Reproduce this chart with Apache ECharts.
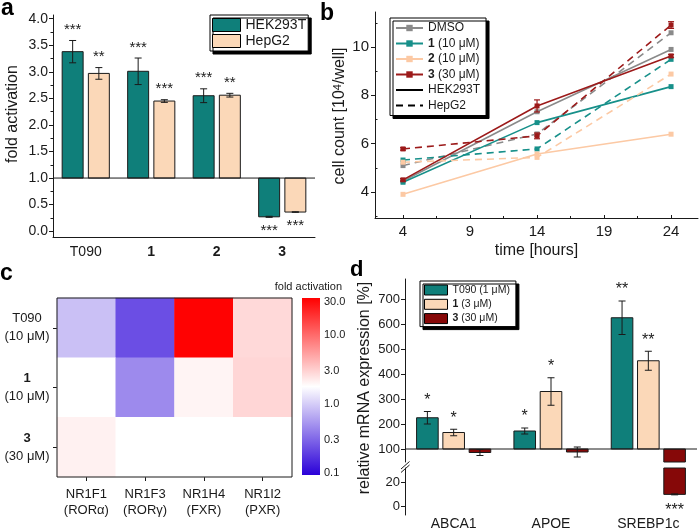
<!DOCTYPE html>
<html><head><meta charset="utf-8">
<script src="https://cdn.jsdelivr.net/npm/echarts@6/dist/echarts.min.js"></script>
<style>html,body{margin:0;padding:0;background:#fff}#c{width:700px;height:531px}</style>
</head><body><div id="c"></div><script>
// ---------------- DATA ----------------
// Panel a: fold activation (baseline 1.0)
const aCategories = ['T090', '1', '2', '3'];
const aHEK = [3.38, 3.01, 2.55, 0.27];
const aHEKErr = [0.21, 0.25, 0.13, 0.01];
const aHEKStars = ['***', '***', '***', '***'];
const aHepG2 = [2.97, 2.45, 2.56, 0.36];
const aHepG2Err = [0.11, 0.025, 0.035, 0.005];
const aHepG2Stars = ['**', '***', '**', '***'];
const aBaseline = 1.0;
const aYTicks = [0, 0.5, 1, 1.5, 2, 2.5, 3, 3.5, 4];
const aYMinor = [0.25, 0.75, 1.25, 1.75, 2.25, 2.75, 3.25, 3.75];

// Panel b: cell count over time
const bTimes = [4, 14, 24];
const bXTicks = [4, 9, 14, 19, 24];
const bXMinor = [6.5, 11.5, 16.5, 21.5];
const bYTicks = [4, 6, 8, 10];
const bYMinor = [3, 5, 7, 9, 11];
const bDMSO_HEK = [4.45, 7.32, 9.90];
const bDMSO_HepG2 = [5.09, 6.40, 10.59];
const b1_HEK = [4.40, 6.87, 8.36];
const b1_HepG2 = [5.32, 5.78, 9.49];
const b2_HEK = [3.90, 5.57, 6.39];
const b2_HepG2 = [5.23, 5.43, 8.88];
const b3_HEK = [4.50, 7.56, 9.63];
const b3_HEKErr = [0.05, 0.25, 0.06];
const b3_HepG2 = [5.78, 6.32, 10.91];
const b3_HepG2Err = [0.05, 0.12, 0.14];

// Panel c: heatmap of fold activation
const cRowKeys = ['T090', '1', '3'];
const cRowConc = ['(10 μM)', '(10 μM)', '(30 μM)'];
const cCols = ['NR1F1\n(RORα)', 'NR1F3\n(RORγ)', 'NR1H4\n(FXR)', 'NR1I2\n(PXR)'];
const cT090 = [0.86, 0.23, 34, 2.8];
const c1 = [1.8, 0.46, 2.03, 2.9];
const c3 = [2.1, 1.8, 1.8, 1.8];
const cBarTicks = [0.1, 0.3, 1, 3, 10, 30];
const cBarMin = 0.0925, cBarMax = 34.8;

// Panel d: relative mRNA expression (baseline 100 %)
const dCategories = ['ABCA1', 'APOE', 'SREBP1c'];
const dT090 = [225, 172, 625];
const dT090Err = [25, 12, 67];
const dT090Stars = ['*', '*', '**'];
const d1 = [166, 330, 453];
const d1Err = [13, 55, 38];
const d1Stars = ['*', '*', '**'];
const d3 = [86, 88, 10];
const d3Err = [12, 20, 0.4];
const d3Stars = ['', '', '***'];
const dBaseline = 100;
const dUpperTicks = [100, 200, 300, 400, 500, 600, 700];
const dLowerTicks = [0, 20];
const dUpperMin = 48, dUpperMax = 780, dLowerMin = -7.2, dLowerMax = 32;

// ---------------- STYLE ----------------
const FONT = '"Liberation Sans", Arial, Helvetica, sans-serif';
const INK = '#1a1a1a';
const TEAL = '#0f7f7a', PEACH = '#fbd8b8', DRED = '#860808', GRAY = '#8a8a8a';
const TEAL_L = '#17908a', PEACH_L = '#fcc9a4', DRED_L = '#9c1a1a';

const chart = echarts.init(document.getElementById('c'));

function makeBar(o) {
  return function (params, api) {
    const i = params.dataIndex;
    const cat = api.value(0), v = api.value(1), e = api.value(2);
    const cs = params.coordSys;
    const band = api.size([1, 0])[0];
    const c0 = api.coord([cat, o.base]);
    const c1p = api.coord([cat, v]);
    const xc = c0[0] + band * o.off;
    const w = band * o.wid;
    const top = cs.y, bot = cs.y + cs.height;
    const clamp = y => Math.max(top, Math.min(bot, y));
    const ya = clamp(Math.min(c0[1], c1p[1])), yb = clamp(Math.max(c0[1], c1p[1]));
    const ch = [];
    if (yb - ya > 0.2) ch.push({type: 'rect', shape: {x: xc - w / 2, y: ya, width: w, height: yb - ya},
      style: {fill: o.color, stroke: INK, lineWidth: 1}});
    const eHi = api.coord([cat, v + e])[1], eLo = api.coord([cat, v - e])[1];
    const inR = y => y >= top - 0.5 && y <= bot + 0.5;
    if (e > 0 && inR(eHi) && inR(eLo)) {
      const cw = o.cap;
      const st = {stroke: INK, lineWidth: 1};
      ch.push({type: 'line', shape: {x1: xc, y1: eHi, x2: xc, y2: eLo}, style: st});
      ch.push({type: 'line', shape: {x1: xc - cw, y1: eHi, x2: xc + cw, y2: eHi}, style: st});
      ch.push({type: 'line', shape: {x1: xc - cw, y1: eLo, x2: xc + cw, y2: eLo}, style: st});
    }
    const s = o.stars[i];
    if (s && inR(c1p[1])) {
      const up = v >= o.base;
      const y = up ? Math.min(eHi, c1p[1]) - o.gapUp : Math.max(eLo, c1p[1]) + o.gapDown;
      ch.push({type: 'text', style: {text: s, x: xc, y: y, align: 'center',
        verticalAlign: up ? 'bottom' : 'top', fontSize: o.starSize, fontFamily: FONT, fill: INK}});
    }
    return {type: 'group', children: ch};
  };
}
function baselineRender(params, api) {
  const cs = params.coordSys;
  const y = api.coord([0, api.value(1)])[1];
  return {type: 'line', shape: {x1: cs.x, y1: y, x2: cs.x + cs.width, y2: y}, style: {stroke: INK, lineWidth: 1}};
}
function errRender(params, api) {
  const x = api.value(0), v = api.value(1), e = api.value(2);
  const p1 = api.coord([x, v + e]), p2 = api.coord([x, v - e]);
  const col = api.visual('color');
  const st = {stroke: col, lineWidth: 1.2};
  return {type: 'group', children: [
    {type: 'line', shape: {x1: p1[0], y1: p1[1], x2: p2[0], y2: p2[1]}, style: st},
    {type: 'line', shape: {x1: p1[0] - 3, y1: p1[1], x2: p1[0] + 3, y2: p1[1]}, style: st},
    {type: 'line', shape: {x1: p2[0] - 3, y1: p2[1], x2: p2[0] + 3, y2: p2[1]}, style: st}
  ]};
}
const pts = arr => bTimes.map((t, i) => [t, arr[i]]);
const errPts = (arr, err) => bTimes.map((t, i) => [t, arr[i], err[i]]);
const barData = (vals, errs) => vals.map((v, i) => [i, v, errs[i]]);
const log10 = Math.log10;

const heatData = [];
[cT090, c1, c3].forEach((row, r) => row.forEach((v, c) => heatData.push([c, r, log10(v)])));

const legendNames = {
  aHEK: 'HEK293T', aHepG2: 'HepG2',
  DMSO: 'DMSO', b1: '{b|1} (10 μM)', b2: '{b|2} (10 μM)', b3: '{b|3} (30 μM)', bHEK: 'HEK293T', bHepG2: 'HepG2',
  dT090: 'T090 (1 μM)', d1: '{b|1} (3 μM)', d3: '{b|3} (30 μM)'
};
const legendBox = {orient: 'vertical', borderColor: '#000', borderWidth: 1, backgroundColor: '#fff',
  shadowColor: '#000', shadowOffsetX: 3, shadowOffsetY: 3, shadowBlur: 0, selectedMode: false,
  formatter: n => legendNames[n]};

function lineSeries(name, data, color, dashed) {
  return {type: 'line', name: name, xAxisIndex: 1, yAxisIndex: 2, data: pts(data),
    symbol: 'rect', symbolSize: 5, showSymbol: true,
    lineStyle: {color: color, width: 1.6, type: dashed ? [7, 5] : 'solid'},
    itemStyle: {color: color}, emphasis: {disabled: true}, z: 3};
}

const series = [
  // panel a
  {type: 'custom', name: 'aHEK', xAxisIndex: 0, yAxisIndex: 0, itemStyle: {color: TEAL}, data: barData(aHEK, aHEKErr),
    renderItem: makeBar({base: aBaseline, off: -0.2, wid: 0.32, color: TEAL, stars: aHEKStars, cap: 3.5, gapUp: 3, gapDown: 6, starSize: 15})},
  {type: 'custom', name: 'aHepG2', xAxisIndex: 0, yAxisIndex: 0, itemStyle: {color: PEACH}, data: barData(aHepG2, aHepG2Err),
    renderItem: makeBar({base: aBaseline, off: 0.2, wid: 0.32, color: PEACH, stars: aHepG2Stars, cap: 3.5, gapUp: 3, gapDown: 6, starSize: 15})},
  {type: 'custom', name: 'aBase', xAxisIndex: 0, yAxisIndex: 0, data: [[0, aBaseline]], renderItem: baselineRender, z: 5},
  // panel b
  lineSeries('DMSO', bDMSO_HEK, GRAY, false),
  lineSeries('DMSO', bDMSO_HepG2, GRAY, true),
  lineSeries('b1', b1_HEK, TEAL_L, false),
  lineSeries('b1', b1_HepG2, TEAL_L, true),
  lineSeries('b2', b2_HEK, PEACH_L, false),
  lineSeries('b2', b2_HepG2, PEACH_L, true),
  lineSeries('b3', b3_HEK, DRED_L, false),
  lineSeries('b3', b3_HepG2, DRED_L, true),
  {type: 'line', name: 'bHEK', xAxisIndex: 1, yAxisIndex: 2, data: [], symbol: 'none',
    lineStyle: {color: '#000', width: 1.6}, itemStyle: {color: '#000'}},
  {type: 'line', name: 'bHepG2', xAxisIndex: 1, yAxisIndex: 2, data: [], symbol: 'none',
    lineStyle: {color: '#000', width: 1.6, type: [7, 5]}, itemStyle: {color: '#000'}},
  {type: 'custom', name: 'bErr1', xAxisIndex: 1, yAxisIndex: 2, itemStyle: {color: DRED_L}, data: errPts(b3_HEK, b3_HEKErr), renderItem: errRender, z: 4},
  {type: 'custom', name: 'bErr2', xAxisIndex: 1, yAxisIndex: 2, itemStyle: {color: DRED_L}, data: errPts(b3_HepG2, b3_HepG2Err), renderItem: errRender, z: 4},
  // panel c
  {type: 'heatmap', name: 'heat', xAxisIndex: 3, yAxisIndex: 4, data: heatData, itemStyle: {borderWidth: 0}, emphasis: {disabled: true}},
  {type: 'custom', name: 'cFrame', xAxisIndex: 3, yAxisIndex: 4, data: [[0, 0]], z: 10,
    renderItem: (params) => { const cs = params.coordSys; return {type: 'rect', shape: {x: cs.x, y: cs.y, width: cs.width, height: cs.height}, style: {fill: 'none', stroke: INK, lineWidth: 1}}; }},
  {type: 'custom', name: 'cBar', xAxisIndex: 4, yAxisIndex: 5, data: [[0, 0]],
    renderItem: (params, api) => {
      const cs = params.coordSys;
      const yTop = api.coord([0, log10(cBarMax)])[1], yBot = api.coord([0, log10(cBarMin)])[1];
      return {type: 'rect', shape: {x: cs.x, y: yTop, width: cs.width, height: yBot - yTop},
        style: {fill: new echarts.graphic.LinearGradient(0, 0, 0, 1, [
          {offset: 0, color: '#ff0000'}, {offset: 0.5, color: '#ffffff'}, {offset: 1, color: '#2a00d8'}])}};
    }},
  // panel d upper
  {type: 'custom', name: 'dT090', xAxisIndex: 5, yAxisIndex: 6, itemStyle: {color: TEAL}, data: barData(dT090, dT090Err),
    renderItem: makeBar({base: dBaseline, off: -0.27, wid: 0.222, color: TEAL, stars: dT090Stars, cap: 3.5, gapUp: 3, gapDown: 8, starSize: 16})},
  {type: 'custom', name: 'd1', xAxisIndex: 5, yAxisIndex: 6, itemStyle: {color: PEACH}, data: barData(d1, d1Err),
    renderItem: makeBar({base: dBaseline, off: 0, wid: 0.222, color: PEACH, stars: d1Stars, cap: 3.5, gapUp: 3, gapDown: 8, starSize: 16})},
  {type: 'custom', name: 'd3', xAxisIndex: 5, yAxisIndex: 6, itemStyle: {color: DRED}, data: barData(d3, d3Err),
    renderItem: makeBar({base: dBaseline, off: 0.27, wid: 0.222, color: DRED, stars: d3Stars, cap: 3.5, gapUp: 3, gapDown: 8, starSize: 16})},
  {type: 'custom', name: 'dBase', xAxisIndex: 5, yAxisIndex: 6, data: [[0, dBaseline]], renderItem: baselineRender, z: 5},
  // panel d lower
  {type: 'custom', name: 'd3', xAxisIndex: 6, yAxisIndex: 7, itemStyle: {color: DRED}, data: barData(d3, d3Err),
    renderItem: makeBar({base: dBaseline, off: 0.27, wid: 0.222, color: DRED, stars: d3Stars, cap: 3.5, gapUp: 3, gapDown: 8, starSize: 16})}
];
const heatIndex = series.findIndex(s => s.type === 'heatmap');

const axTxt = (size) => ({fontSize: size, color: INK, fontFamily: FONT});
const noSplit = {show: false};

const option = {
  animation: false,
  backgroundColor: '#fff',
  textStyle: {fontFamily: FONT, color: INK},
  grid: [
    {left: 53, top: 15, width: 262, height: 222},
    {left: 375, top: 12, width: 323, height: 206},
    {left: 57, top: 298, width: 235, height: 179},
    {left: 302, top: 298, width: 18, height: 177},
    {left: 405, top: 279, width: 292, height: 183},
    {left: 405, top: 468, width: 292, height: 49}
  ],
  xAxis: [
    {gridIndex: 0, type: 'category', data: aCategories, axisLine: {onZero: false, lineStyle: {color: INK}}, axisTick: {show: false},
      axisLabel: Object.assign(axTxt(14), {margin: 8, formatter: v => v === 'T090' ? v : '{b|' + v + '}',
        rich: {b: {fontWeight: 'bold', fontSize: 14, fontFamily: FONT, color: INK}}}), splitLine: noSplit},
    {gridIndex: 1, type: 'value', min: 1.91, max: 26.01, position: 'bottom', axisLine: {onZero: false, lineStyle: {color: INK}},
      axisTick: {show: true, inside: true, length: 3, customValues: bXTicks, lineStyle: {color: INK}},
      axisLabel: Object.assign(axTxt(15), {customValues: bXTicks, margin: 6}), splitLine: noSplit,
      name: 'time [hours]', nameLocation: 'middle', nameGap: 25, nameTextStyle: axTxt(16)},
    {gridIndex: 1, type: 'value', min: 1.91, max: 26.01, position: 'bottom', axisLine: {show: false, onZero: false},
      axisTick: {show: true, inside: true, length: 2, customValues: bXMinor, lineStyle: {color: INK}},
      axisLabel: {show: false}, splitLine: noSplit},
    {gridIndex: 2, type: 'category', data: cCols, axisLine: {show: false},
      axisTick: {show: true, alignWithLabel: true, length: 4, lineStyle: {color: INK}},
      axisLabel: Object.assign(axTxt(13), {margin: 9, lineHeight: 16}), splitLine: noSplit},
    {gridIndex: 3, type: 'value', min: 0, max: 1, show: false},
    {gridIndex: 4, type: 'category', data: dCategories, show: false},
    {gridIndex: 5, type: 'category', data: dCategories, axisLine: {show: false, onZero: false}, axisTick: {show: false},
      axisLabel: Object.assign(axTxt(14), {margin: 2})}
  ],
  yAxis: [
    {gridIndex: 0, type: 'value', min: -0.11, max: 4.07, position: 'left', axisLine: {show: true, lineStyle: {color: INK}},
      axisTick: {show: true, length: 4, customValues: aYTicks, lineStyle: {color: INK}},
      axisLabel: Object.assign(axTxt(14), {customValues: aYTicks, margin: 5, formatter: v => v.toFixed(1)}), splitLine: noSplit},
    {gridIndex: 0, type: 'value', min: -0.11, max: 4.07, position: 'left', axisLine: {show: false},
      axisTick: {show: true, length: 2.5, customValues: aYMinor, lineStyle: {color: INK}}, axisLabel: {show: false}, splitLine: noSplit},
    {gridIndex: 1, type: 'value', min: 2.92, max: 11.45, position: 'left', axisLine: {show: true, onZero: false, lineStyle: {color: INK}},
      axisTick: {show: true, length: 4, customValues: bYTicks, lineStyle: {color: INK}},
      axisLabel: Object.assign(axTxt(15), {customValues: bYTicks, margin: 6}), splitLine: noSplit},
    {gridIndex: 1, type: 'value', min: 2.92, max: 11.45, position: 'left', axisLine: {show: false},
      axisTick: {show: true, inside: true, length: 2.5, customValues: bYMinor, lineStyle: {color: INK}}, axisLabel: {show: false}, splitLine: noSplit},
    {gridIndex: 2, type: 'category', data: cRowKeys, inverse: true, axisLine: {show: false},
      axisTick: {show: true, alignWithLabel: true, length: 4, lineStyle: {color: INK}},
      axisLabel: Object.assign(axTxt(13), {margin: 6,
        formatter: (v, i) => (v === 'T090' ? '{n|T090}' : '{b|' + v + '}') + '\n{n|' + cRowConc[cRowKeys.indexOf(v)] + '}',
        rich: {n: {width: 48, align: 'center', fontSize: 13, fontFamily: FONT, color: INK, lineHeight: 18},
               b: {width: 48, align: 'center', fontSize: 13, fontWeight: 'bold', fontFamily: FONT, color: INK, lineHeight: 18}}}),
      splitLine: noSplit},
    {gridIndex: 3, type: 'value', position: 'right', min: log10(cBarMin), max: log10(cBarMax), axisLine: {show: false},
      axisTick: {show: true, length: 3, customValues: cBarTicks.map(log10), lineStyle: {color: INK}},
      axisLabel: Object.assign(axTxt(11), {customValues: cBarTicks.map(log10), margin: 4, formatter: v => Math.pow(10, v).toFixed(1)}),
      splitLine: noSplit},
    {gridIndex: 4, type: 'value', min: dUpperMin, max: dUpperMax, position: 'left', axisLine: {show: true, lineStyle: {color: INK}},
      axisTick: {show: true, length: 4, customValues: dUpperTicks, lineStyle: {color: INK}},
      axisLabel: Object.assign(axTxt(13), {customValues: dUpperTicks, margin: 5}), splitLine: noSplit},
    {gridIndex: 5, type: 'value', min: dLowerMin, max: dLowerMax, position: 'left', axisLine: {show: true, lineStyle: {color: INK}},
      axisTick: {show: true, length: 4, customValues: dLowerTicks, lineStyle: {color: INK}},
      axisLabel: Object.assign(axTxt(13), {customValues: dLowerTicks, margin: 5}), splitLine: noSplit}
  ],
  visualMap: [{type: 'continuous', show: false, seriesIndex: heatIndex, dimension: 2,
    min: log10(cBarMin), max: log10(cBarMax), inRange: {color: ['#2a00d8', '#ffffff', '#ff0000']}}],
  legend: [
    Object.assign({}, legendBox, {data: ['aHEK', 'aHepG2'], left: 210, top: 15, padding: [3, 2, 3, 2],
      itemWidth: 28, itemHeight: 13, itemGap: 2, icon: 'rect', itemStyle: {borderColor: '#000', borderWidth: 1},
      textStyle: {fontSize: 14, color: INK, fontFamily: FONT, lineHeight: 14}}),
    Object.assign({}, legendBox, {data: ['DMSO', 'b1', 'b2', 'b3',
        {name: 'bHEK', itemStyle: {opacity: 0}}, {name: 'bHepG2', itemStyle: {opacity: 0}}], left: 390, top: 18, padding: [3, 6, 3, 5],
      itemWidth: 27, itemHeight: 8, itemGap: 1.5,
      textStyle: {fontSize: 12, color: INK, fontFamily: FONT, lineHeight: 14,
        rich: {b: {fontWeight: 'bold', fontSize: 12, fontFamily: FONT, color: INK}}}}),
    Object.assign({}, legendBox, {data: ['dT090', 'd1', 'd3'], left: 420, top: 281, padding: [3, 6, 2, 4],
      itemWidth: 23, itemHeight: 10, itemGap: 2.3, icon: 'rect', itemStyle: {borderColor: '#000', borderWidth: 1},
      textStyle: {fontSize: 10.5, color: INK, fontFamily: FONT, lineHeight: 12,
        rich: {b: {fontWeight: 'bold', fontSize: 10.5, fontFamily: FONT, color: INK}}}})
  ],
  graphic: [
    {type: 'text', x: 1, y: 9, style: {text: 'a', fontSize: 23, fontWeight: 'bold', fontFamily: FONT, fill: '#000', verticalAlign: 'middle'}},
    {type: 'text', x: 320, y: 14, style: {text: 'b', fontSize: 23, fontWeight: 'bold', fontFamily: FONT, fill: '#000', verticalAlign: 'middle'}},
    {type: 'text', x: 0, y: 274, style: {text: 'c', fontSize: 23, fontWeight: 'bold', fontFamily: FONT, fill: '#000', verticalAlign: 'middle'}},
    {type: 'text', x: 350, y: 270, style: {text: 'd', fontSize: 22, fontWeight: 'bold', fontFamily: FONT, fill: '#000', verticalAlign: 'middle'}},
    {type: 'text', x: 13, y: 114, rotation: Math.PI / 2, style: {text: 'fold activation', fontSize: 16, fontFamily: FONT, fill: INK, align: 'center', verticalAlign: 'middle'}},
    {type: 'text', x: 340, y: 116, rotation: Math.PI / 2, style: {text: 'cell count [10{sup|4}/well]', fontSize: 16, fontFamily: FONT, fill: INK, align: 'center', verticalAlign: 'middle',
      rich: {sup: {fontSize: 11, fontFamily: FONT, fill: INK, verticalAlign: 'top', lineHeight: 16}}}},
    {type: 'text', x: 365, y: 388, rotation: Math.PI / 2, style: {text: 'relative mRNA expression [%]', fontSize: 16, fontFamily: FONT, fill: INK, align: 'center', verticalAlign: 'middle'}},
    {type: 'text', x: 342, y: 287, style: {text: 'fold activation', fontSize: 11, fontFamily: FONT, fill: INK, align: 'right', verticalAlign: 'middle'}},
    {type: 'line', shape: {x1: 401, y1: 472.5, x2: 409.5, y2: 465}, style: {stroke: INK, lineWidth: 1}},
    {type: 'line', shape: {x1: 401, y1: 469, x2: 409.5, y2: 461.5}, style: {stroke: INK, lineWidth: 1}}
  ],
  series: series
};
chart.setOption(option);
</script></body></html>
